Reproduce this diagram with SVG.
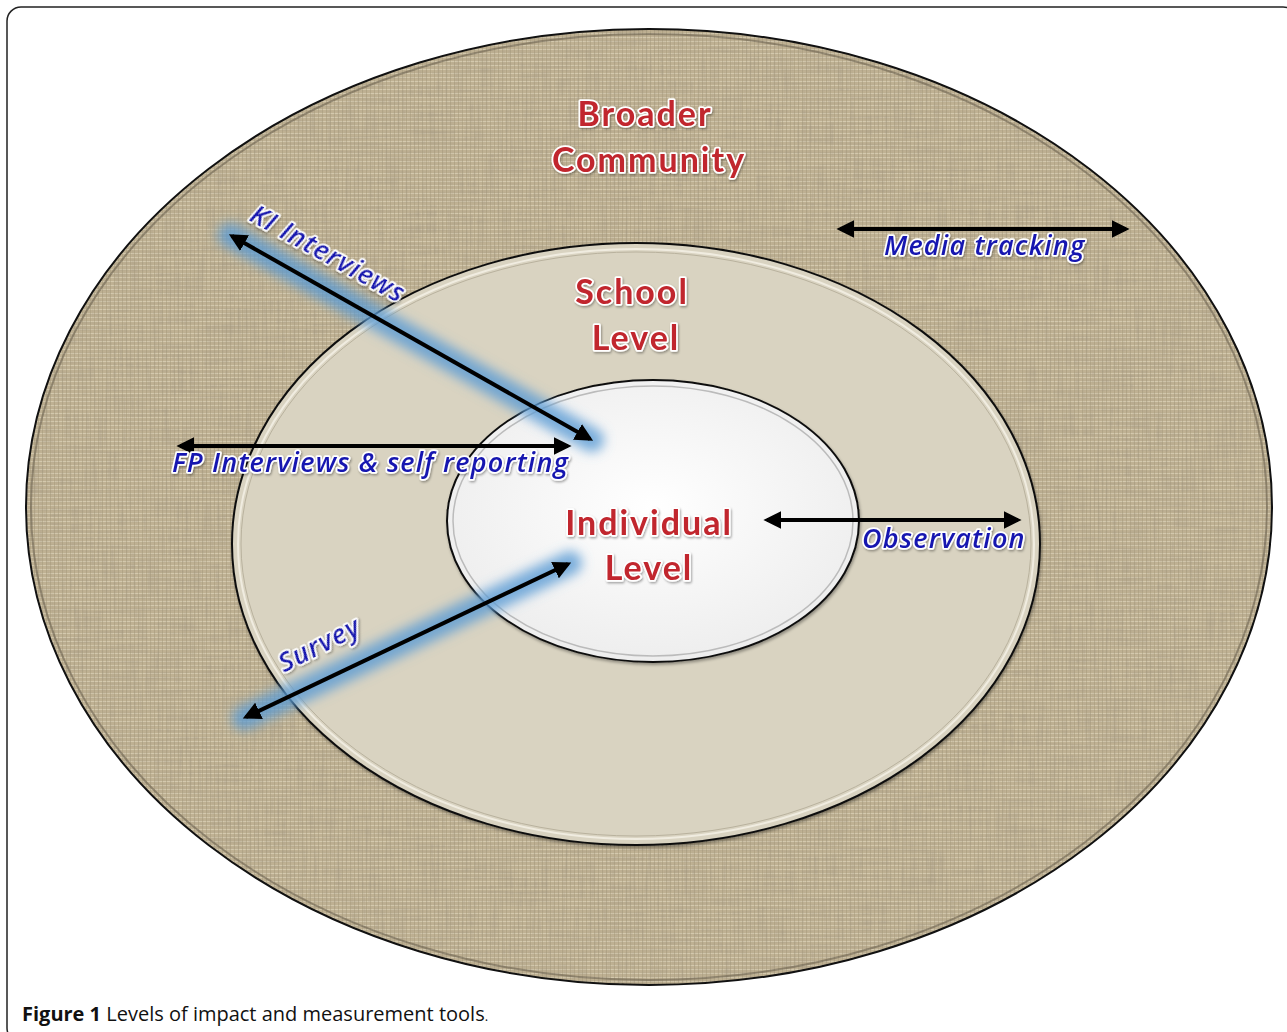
<svg xmlns="http://www.w3.org/2000/svg" width="1287" height="1032" viewBox="0 0 1287 1032">
<style>
.lvl{font-family:Lato,"Open Sans",sans-serif;font-weight:700;font-size:34px;letter-spacing:2px;fill:#c1272d;stroke:#fff;stroke-width:3.5;paint-order:stroke;stroke-linejoin:round;text-anchor:middle;filter:url(#tshadow)}
.tool{font-family:"Open Sans",Lato,sans-serif;font-weight:600;font-style:italic;font-size:27px;letter-spacing:1.2px;fill:#1818b0;stroke:#fff;stroke-width:3.5;paint-order:stroke;stroke-linejoin:round;filter:url(#tshadow)}
.arr{stroke:#000;stroke-width:4;fill:none;marker-start:url(#ah);marker-end:url(#ah)}
.glow{stroke:#5b9bd5;stroke-opacity:0.8;stroke-width:24;stroke-linecap:round;fill:none;filter:url(#blur)}
.cap{font-family:"Open Sans",sans-serif;font-size:20px;fill:#111}
</style>
<defs>
<marker id="ah" viewBox="0 0 10 10" refX="8" refY="5" markerWidth="4.5" markerHeight="4.5" orient="auto-start-reverse" markerUnits="strokeWidth">
<path d="M0,0 L10,5 L0,10 z" fill="#000"/>
</marker>
<filter id="blur" x="-20%" y="-50%" width="140%" height="200%"><feGaussianBlur stdDeviation="6"/></filter>
<filter id="shadow" x="-5%" y="-5%" width="110%" height="110%"><feDropShadow dx="1" dy="2" stdDeviation="1.5" flood-color="#000" flood-opacity="0.35"/></filter>
<filter id="tshadow" x="-10%" y="-30%" width="120%" height="160%"><feDropShadow dx="1" dy="1.5" stdDeviation="1" flood-color="#000" flood-opacity="0.35"/></filter>
<filter id="grain" x="0" y="0" width="100%" height="100%">
<feTurbulence type="fractalNoise" baseFrequency="0.02 0.35" numOctaves="2" seed="3" result="h"/>
<feTurbulence type="fractalNoise" baseFrequency="0.35 0.02" numOctaves="2" seed="7" result="v"/>
<feComposite in="h" in2="v" operator="arithmetic" k2="0.5" k3="0.5" result="n"/>
<feColorMatrix in="n" type="matrix" values="0 0 0 0 0.35  0 0 0 0 0.30  0 0 0 0 0.22  -2.2 0 0 0 1.25"/>
<feComposite in2="SourceGraphic" operator="in"/>
</filter>
<pattern id="linen" width="8" height="8" patternUnits="userSpaceOnUse">
<rect width="8" height="8" fill="#bfb193"/>
<path d="M0,1.5 H8 M0,5.5 H8" stroke="#d4c9ae" stroke-width="1"/>
<path d="M2.5,0 V8 M6.5,0 V8" stroke="#a29579" stroke-width="0.8" stroke-opacity="0.6"/>
</pattern>
<radialGradient id="inner" cx="50%" cy="45%" r="60%">
<stop offset="0" stop-color="#ffffff"/>
<stop offset="1" stop-color="#ececec"/>
</radialGradient>
</defs>
<rect x="7" y="7" width="1290" height="1035" rx="14" fill="#fff" stroke="#222" stroke-width="1.5"/>
<g id="broader-community">
<ellipse cx="649" cy="507" rx="623" ry="478" fill="url(#linen)" stroke="#111" stroke-width="2"/>
<ellipse cx="649" cy="507" rx="622" ry="477" fill="#000" filter="url(#grain)" opacity="0.55"/>
<ellipse cx="649" cy="507" rx="618" ry="473" fill="none" stroke="#6d6350" stroke-width="2" stroke-opacity="0.6"/>
<text class="lvl" x="645" y="126">Broader</text>
<text class="lvl" x="649" y="172">Community</text>
</g>
<g id="school-level">
<ellipse cx="636" cy="544" rx="404" ry="301" fill="#d9d3c1" stroke="#111" stroke-width="2" filter="url(#shadow)"/>
<ellipse cx="636" cy="544" rx="398" ry="295" fill="none" stroke="#f0ece0" stroke-width="2"/>
<ellipse cx="636" cy="544" rx="395" ry="292" fill="none" stroke="#b9b29e" stroke-width="1"/>
<text class="lvl" x="632" y="304">School</text>
<text class="lvl" x="636" y="350">Level</text>
</g>
<g id="individual-level">
<ellipse cx="653" cy="521" rx="206" ry="141" fill="url(#inner)" stroke="#111" stroke-width="2" filter="url(#shadow)"/>
<ellipse cx="653" cy="521" rx="200" ry="135" fill="none" stroke="#bbb" stroke-width="1.5"/>
<text class="lvl" x="649" y="535">Individual</text>
<text class="lvl" x="649" y="580">Level</text>
</g>
<g id="connectors">
<line class="glow" x1="230" y1="235" x2="592" y2="440"/>
<line class="glow" x1="180" y1="446" x2="570" y2="446"/>
<line class="glow" x1="838" y1="229" x2="1128" y2="229"/>
<line class="glow" x1="765" y1="520" x2="1020" y2="520"/>
<line class="glow" x1="244" y1="718" x2="570" y2="563"/>
<line class="arr" x1="232" y1="236" x2="590" y2="439"/>
<line class="arr" x1="180" y1="446" x2="568" y2="446"/>
<line class="arr" x1="840" y1="229" x2="1126" y2="229"/>
<line class="arr" x1="767" y1="520" x2="1018" y2="520"/>
<line class="arr" x1="246" y1="717" x2="568" y2="564"/>
</g>
<g id="labels">
<text class="tool" transform="translate(248,220) rotate(29)">KI Interviews</text>
<text class="tool" x="884" y="255">Media tracking</text>
<text class="tool" x="172" y="472">FP Interviews &amp; self reporting</text>
<text class="tool" x="862" y="548">Observation</text>
<text class="tool" transform="translate(284,673) rotate(-27)">Survey</text>
</g>
<text class="cap" x="22" y="1021"><tspan font-weight="700">Figure 1</tspan> Levels of impact and measurement tools<tspan font-size="13">.</tspan></text>
</svg>
